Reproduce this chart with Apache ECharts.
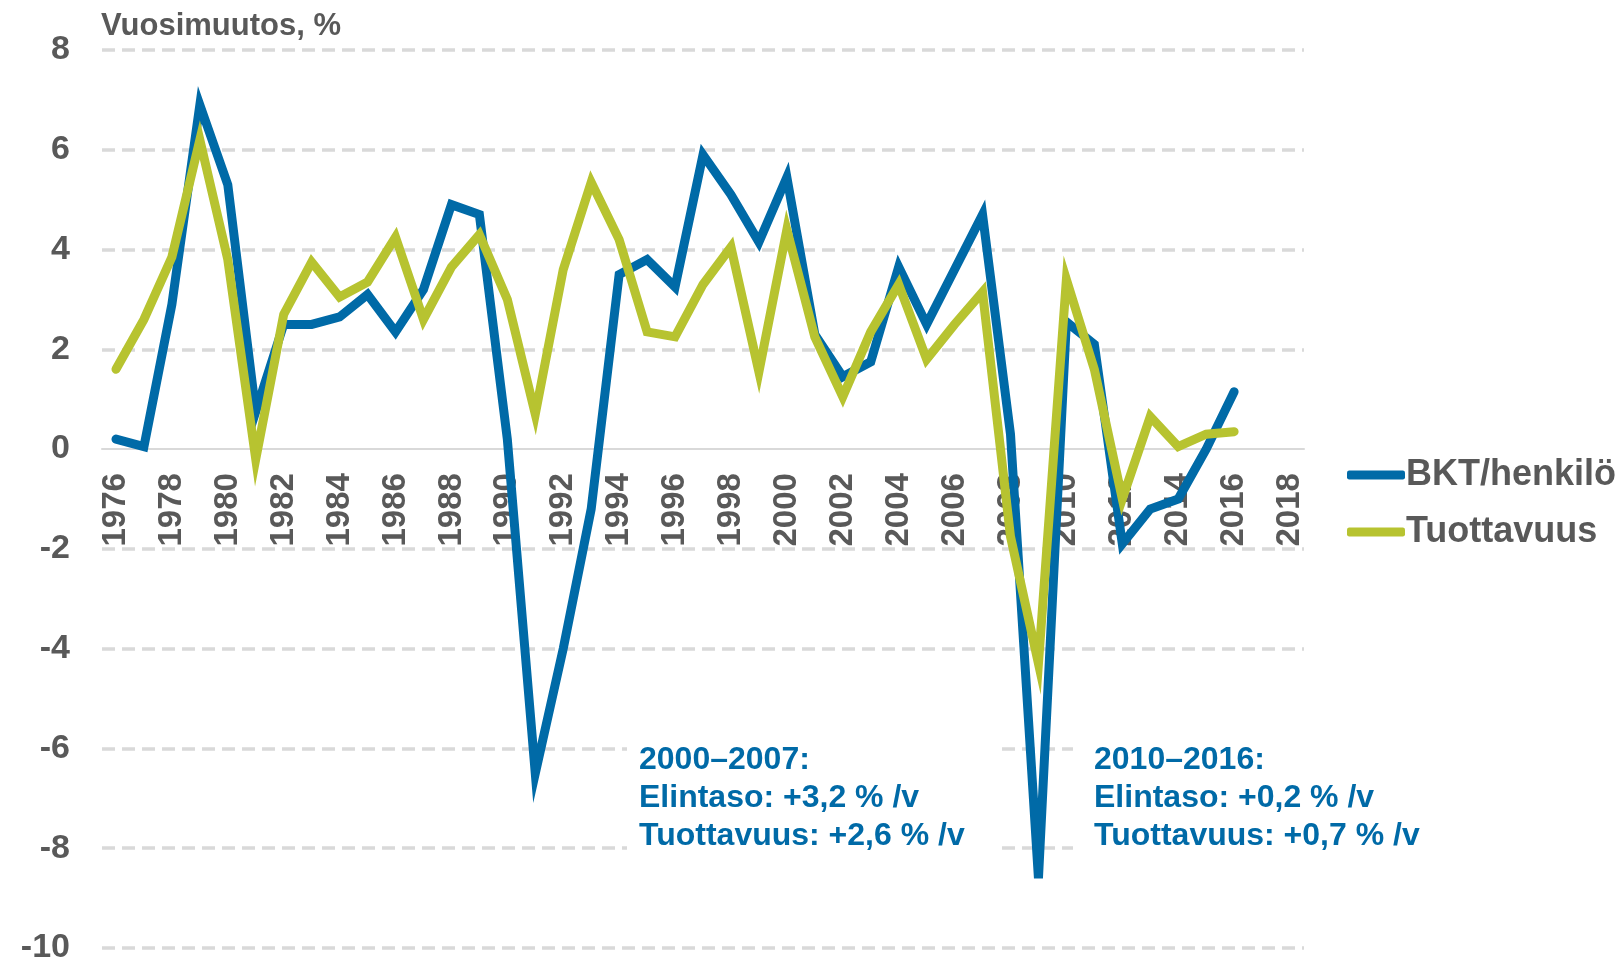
<!DOCTYPE html>
<html>
<head>
<meta charset="utf-8">
<title>Vuosimuutos</title>
<script src="https://cdn.jsdelivr.net/npm/echarts@6/dist/echarts.min.js"></script>
<style>
  html, body { margin: 0; padding: 0; background: #fff; }
  #main { width: 1624px; height: 961px; }
</style>
</head>
<body>
<div id="main"></div>
<script>
// vuodet x-akselille
var years = [];
for (var y = 1976; y <= 2018; y++) years.push(String(y));

// BKT/henkilö, vuosimuutos %
var bktHenkilo = [0.2, 0.05, 2.9, 6.9, 5.3, 0.75, 2.5, 2.5, 2.65, 3.1, 2.35, 3.2, 4.9, 4.7, 0.2,
  -6.5, -4.0, -1.2, 3.5, 3.8, 3.25, 5.9, 5.1, 4.15, 5.45, 2.3, 1.45, 1.75, 3.65, 2.5, 3.6, 4.7,
  0.3, -8.6, 2.55, 2.1, -1.9, -1.2, -1.0, 0.0, 1.15];

// Tuottavuus, vuosimuutos %
var tuottavuus = [1.6, 2.6, 3.85, 6.2, 3.8, -0.2, 2.7, 3.75, 3.05, 3.35, 4.25, 2.6, 3.65, 4.3, 3.0,
  0.7, 3.6, 5.35, 4.2, 2.35, 2.25, 3.3, 4.05, 1.55, 4.4, 2.25, 1.05, 2.35, 3.3, 1.8, 2.5, 3.15,
  -1.75, -4.3, 3.4, 1.6, -1.0, 0.65, 0.05, 0.3, 0.35];

// tekstilaatikot
var note1 = ["2000–2007:", "Elintaso: +3,2 % /v", "Tuottavuus: +2,6 % /v"];
var note2 = ["2010–2016:", "Elintaso: +0,2 % /v", "Tuottavuus: +0,7 % /v"];

var BLUE = "#006AA7";
var GREEN = "#B7C330";
var GREY = "#595959";
var FONT = "'Liberation Sans', Arial, sans-serif";

var GRID_TOP = 50, GRID_BOTTOM = 13;
var Y_MIN = -10, Y_MAX = 8;
// x-akselin siirto nollatasolle (pikseleinä alareunasta)
var plotH = 961 - GRID_TOP - GRID_BOTTOM;
var zeroOffset = -plotH * (0 - Y_MIN) / (Y_MAX - Y_MIN);

var chart = echarts.init(document.getElementById("main"));

chart.setOption({
  animation: false,
  textStyle: { fontFamily: FONT },
  title: {
    text: "Vuosimuutos, %",
    left: 96,
    top: 6,
    textStyle: { color: GREY, fontSize: 31, fontWeight: "bold", fontFamily: FONT }
  },
  legend: {
    orient: "vertical",
    left: 1342,
    top: 452,
    itemWidth: 58,
    itemHeight: 9,
    itemGap: 21,
    icon: "roundRect",
    textStyle: { color: GREY, fontSize: 36, fontWeight: "bold", fontFamily: FONT, padding: [0, 0, 0, -4] },
    data: ["BKT/henkilö", "Tuottavuus"]
  },
  grid: {
    left: 102,
    right: 320,
    top: GRID_TOP,
    bottom: GRID_BOTTOM,
    containLabel: false,
    outerBoundsMode: "none"
  },
  xAxis: {
    type: "category",
    data: years,
    boundaryGap: true,
    position: "bottom",
    offset: zeroOffset,
    axisLine: { onZero: false, lineStyle: { color: "#d9d9d9", width: 2 } },
    axisTick: { show: false },
    axisLabel: {
      interval: 1,
      rotate: 90,
      margin: 24,
      color: GREY,
      fontSize: 33,
      fontWeight: "bold",
      fontFamily: FONT
    },
    splitLine: { show: false }
  },
  yAxis: {
    type: "value",
    min: Y_MIN,
    max: Y_MAX,
    interval: 2,
    axisLine: { show: false },
    axisTick: { show: false },
    axisLabel: {
      margin: 32,
      color: GREY,
      fontSize: 34,
      fontWeight: "bold",
      fontFamily: FONT
    },
    splitLine: {
      show: true,
      lineStyle: {
        // nollaviiva on x-akseli, ei katkoviivaa siihen
        color: ["#d9d9d9", "#d9d9d9", "#d9d9d9", "#d9d9d9", "#d9d9d9",
          "rgba(0,0,0,0)", "#d9d9d9", "#d9d9d9", "#d9d9d9", "#d9d9d9"],
        width: 3.5,
        type: [13, 7]
      }
    }
  },
  series: [
    {
      name: "BKT/henkilö",
      type: "line",
      data: bktHenkilo,
      symbol: "none",
      color: BLUE,
      lineStyle: { color: BLUE, width: 9, cap: "round", join: "miter" }
    },
    {
      name: "Tuottavuus",
      type: "line",
      data: tuottavuus,
      symbol: "none",
      color: GREEN,
      lineStyle: { color: GREEN, width: 9, cap: "round", join: "miter" }
    }
  ],
  graphic: [
    { type: "rect", left: 627, top: 738, shape: { width: 373, height: 122 }, style: { fill: "#fff" }, z: 50 },
    { type: "rect", left: 1073, top: 738, shape: { width: 320, height: 122 }, style: { fill: "#fff" }, z: 50 },
    {
      type: "text", left: 639, top: 741, z: 60,
      style: { text: note1.join("\n"), fill: BLUE, font: "bold 32px " + FONT, lineHeight: 38 }
    },
    {
      type: "text", left: 1094, top: 741, z: 60,
      style: { text: note2.join("\n"), fill: BLUE, font: "bold 32px " + FONT, lineHeight: 38 }
    }
  ]
});
</script>
</body>
</html>
